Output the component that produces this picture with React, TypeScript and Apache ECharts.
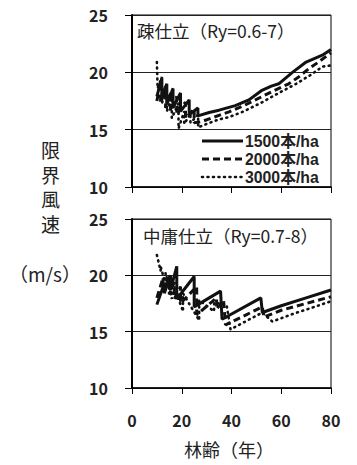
import React, { useEffect, useRef } from "react";
import * as echarts from "echarts";

// 疎仕立 (Ry=0.6-7)
const sparseAge1500 = [10, 12, 12, 14, 14, 16.5, 16.5, 19.5, 19.5, 23, 23, 26.5, 26.5, 31, 35, 41.5, 47, 52, 56, 59, 64.5, 70, 76.5, 80];
const sparseSpeed1500 = [17.9, 19.5, 17.7, 19.0, 17.2, 18.6, 16.9, 18.2, 16.6, 17.6, 16.3, 16.9, 16.2, 16.5, 16.7, 17.1, 17.6, 18.4, 18.8, 19.0, 20.0, 20.9, 21.5, 22.0];
const sparseAge2000 = [10, 11.5, 11.5, 13.5, 13.5, 15.5, 15.5, 18, 18, 21.5, 21.5, 25, 25, 28, 33, 39, 45, 52.4, 58, 63, 67, 71, 75, 80];
const sparseSpeed2000 = [17.5, 19.2, 17.3, 18.8, 16.9, 18.3, 16.6, 17.9, 16.3, 17.4, 16.0, 16.8, 15.6, 15.7, 16.1, 16.55, 17.1, 17.9, 18.5, 19.0, 19.6, 20.3, 20.9, 21.7];
const sparseAge3000 = [10, 10.3, 12, 12, 14, 14, 16, 16, 18.7, 18.7, 21, 21, 23.5, 23.5, 26.6, 26.6, 30, 35, 39, 45, 52.4, 59, 66, 72, 76.6, 80];
const sparseSpeed3000 = [20.9, 18.6, 19.6, 17.3, 18.6, 16.6, 17.8, 16.0, 17.3, 15.1, 16.6, 15.5, 16.4, 15.6, 16.3, 15.2, 15.5, 15.9, 16.1, 16.6, 17.4, 18.2, 19.0, 19.8, 20.5, 20.6];

// 中庸仕立 (Ry=0.7-8)
const midAge1500 = [10, 13, 13, 15.5, 15.5, 18, 18, 25, 25, 35.6, 36.2, 51.8, 52.4, 60, 70, 80];
const midSpeed1500 = [17.4, 19.3, 18.4, 20.0, 18.7, 20.8, 17.9, 19.9, 17.2, 18.6, 16.1, 18.0, 16.7, 17.3, 18.0, 18.7];
const midAge2000 = [10, 12.5, 12.5, 15, 15, 17, 17, 19.5, 19.5, 26, 26, 34, 34, 36.8, 37.6, 52.4, 53, 60, 70, 80];
const midSpeed2000 = [18.0, 19.8, 18.6, 19.9, 18.3, 19.4, 17.9, 19.0, 17.5, 19.0, 16.5, 18.0, 17.0, 17.8, 15.6, 17.2, 16.3, 16.9, 17.5, 18.1];
const midAge3000 = [10, 11.5, 11.5, 13.5, 13.5, 16, 16, 20.5, 20.5, 27, 27, 33, 33, 38, 39.6, 52.4, 56.4, 65, 72, 80];
const midSpeed3000 = [21.8, 20.4, 20.8, 19.2, 20.2, 17.9, 19.6, 16.8, 18.4, 16.0, 17.8, 16.8, 17.6, 17.4, 15.2, 16.7, 15.9, 16.6, 17.1, 17.7];

const seriesNames = ["1500本/ha", "2000本/ha", "3000本/ha"];
const panelTitles = ["疎仕立（Ry=0.6-7）", "中庸仕立（Ry=0.7-8）"];
const xTicks = { min: 0, max: 80, interval: 20 };
const yTicks = { min: 10, max: 25, interval: 5 };
const yAxisTitle = "限\n界\n風\n速";
const yAxisUnit = "（m/s）";
const xAxisTitle = "林齢（年）";

const zip = (a: number[], b: number[]) => a.map((v, i) => [v, b[i]]);

const FONT = "'Noto Sans CJK JP', 'Noto Sans', sans-serif";
const LEGEND_FONT = "'Liberation Sans', 'Noto Sans CJK JP', sans-serif";
const INK = "#111";

const lineStyles: any[] = [
  { width: 3, type: "solid", color: INK },
  { width: 3, type: [7, 4], color: INK },
  { width: 2.6, type: [1, 4.5], color: INK, cap: "round" },
];

export default function App() {
  const ref = useRef<HTMLDivElement>(null);
  useEffect(() => {
    if (!ref.current) return;
    const chart = echarts.init(ref.current, null, { renderer: "svg" });
    const grids = [
      { left: 132, top: 15, width: 199, height: 172 },
      { left: 132, top: 219, width: 199, height: 169 },
    ].map((g) => ({ ...g, show: true, borderColor: "#000", borderWidth: 1, backgroundColor: "transparent" }));

    const xAxis = [0, 1].map((i) => ({
      type: "value",
      gridIndex: i,
      ...xTicks,
      axisLine: { onZero: false, lineStyle: { color: "#000", width: 1.5 } },
      axisTick: { show: true, length: 6, lineStyle: { color: "#000", width: 1 } },
      axisLabel: {
        show: i === 1,
        fontFamily: FONT,
        fontWeight: "bold",
        fontSize: 16,
        color: "#222",
        margin: 24,
      },
      splitLine: { show: false },
    }));

    const yAxis = [0, 1].map((i) => ({
      type: "value",
      gridIndex: i,
      ...yTicks,
      axisLine: { show: true, lineStyle: { color: "#000", width: 2 } },
      axisTick: { show: true, length: 7, lineStyle: { color: "#000", width: 1 } },
      axisLabel: {
        fontFamily: FONT,
        fontWeight: "bold",
        fontSize: 16,
        color: "#222",
        margin: 24,
      },
      splitLine: { show: true, lineStyle: { color: "#222", width: 1 } },
    }));

    const panels = [
      [zip(sparseAge1500, sparseSpeed1500), zip(sparseAge2000, sparseSpeed2000), zip(sparseAge3000, sparseSpeed3000)],
      [zip(midAge1500, midSpeed1500), zip(midAge2000, midSpeed2000), zip(midAge3000, midSpeed3000)],
    ];
    const series: any[] = [];
    panels.forEach((p, gi) =>
      p.forEach((data, si) =>
        series.push({
          type: "line",
          name: seriesNames[si],
          xAxisIndex: gi,
          yAxisIndex: gi,
          data,
          symbol: "none",
          lineStyle: lineStyles[si],
          itemStyle: { color: INK },
          z: 10 - si,
        })
      )
    );

    const legendRows = [141, 159, 177];
    const legendGraphics: any[] = [];
    seriesNames.forEach((name, i) => {
      const ls = lineStyles[i];
      legendGraphics.push({
        type: "line",
        shape: { x1: 202, y1: legendRows[i], x2: 243, y2: legendRows[i] },
        style: {
          stroke: INK,
          lineWidth: ls.width,
          lineDash: Array.isArray(ls.type) ? ls.type : null,
          lineCap: ls.cap || "butt",
        },
      });
      legendGraphics.push({
        type: "text",
        x: 245,
        y: legendRows[i],
        style: {
          text: name,
          font: `bold 15.8px ${LEGEND_FONT}`,
          lineHeight: 16,
          fill: "#222",
          verticalAlign: "middle",
        },
      });
    });

    chart.setOption({
      animation: false,
      grid: grids,
      xAxis,
      yAxis,
      series,
      graphic: [
        { type: "text", left: 137, top: 22, style: { text: panelTitles[0], font: `17.5px ${FONT}`, fill: "#222" } },
        { type: "text", left: 143, top: 227, style: { text: panelTitles[1], font: `17.5px ${FONT}`, fill: "#222" } },
        {
          type: "text",
          left: 41,
          top: 137,
          style: { text: yAxisTitle, font: `19px ${FONT}`, fill: "#222", lineHeight: 24.7, align: "center" },
        },
        { type: "text", left: 9, top: 264, style: { text: yAxisUnit, font: `19px ${FONT}`, fill: "#222" } },
        { type: "text", left: 184, top: 440, style: { text: xAxisTitle, font: `18px ${FONT}`, fill: "#222" } },
        ...legendGraphics,
      ],
    });
    return () => chart.dispose();
  }, []);
  return <div ref={ref} style={{ position: "fixed", left: 0, top: 0, width: 357, height: 465, background: "#fff" }} />;
}
